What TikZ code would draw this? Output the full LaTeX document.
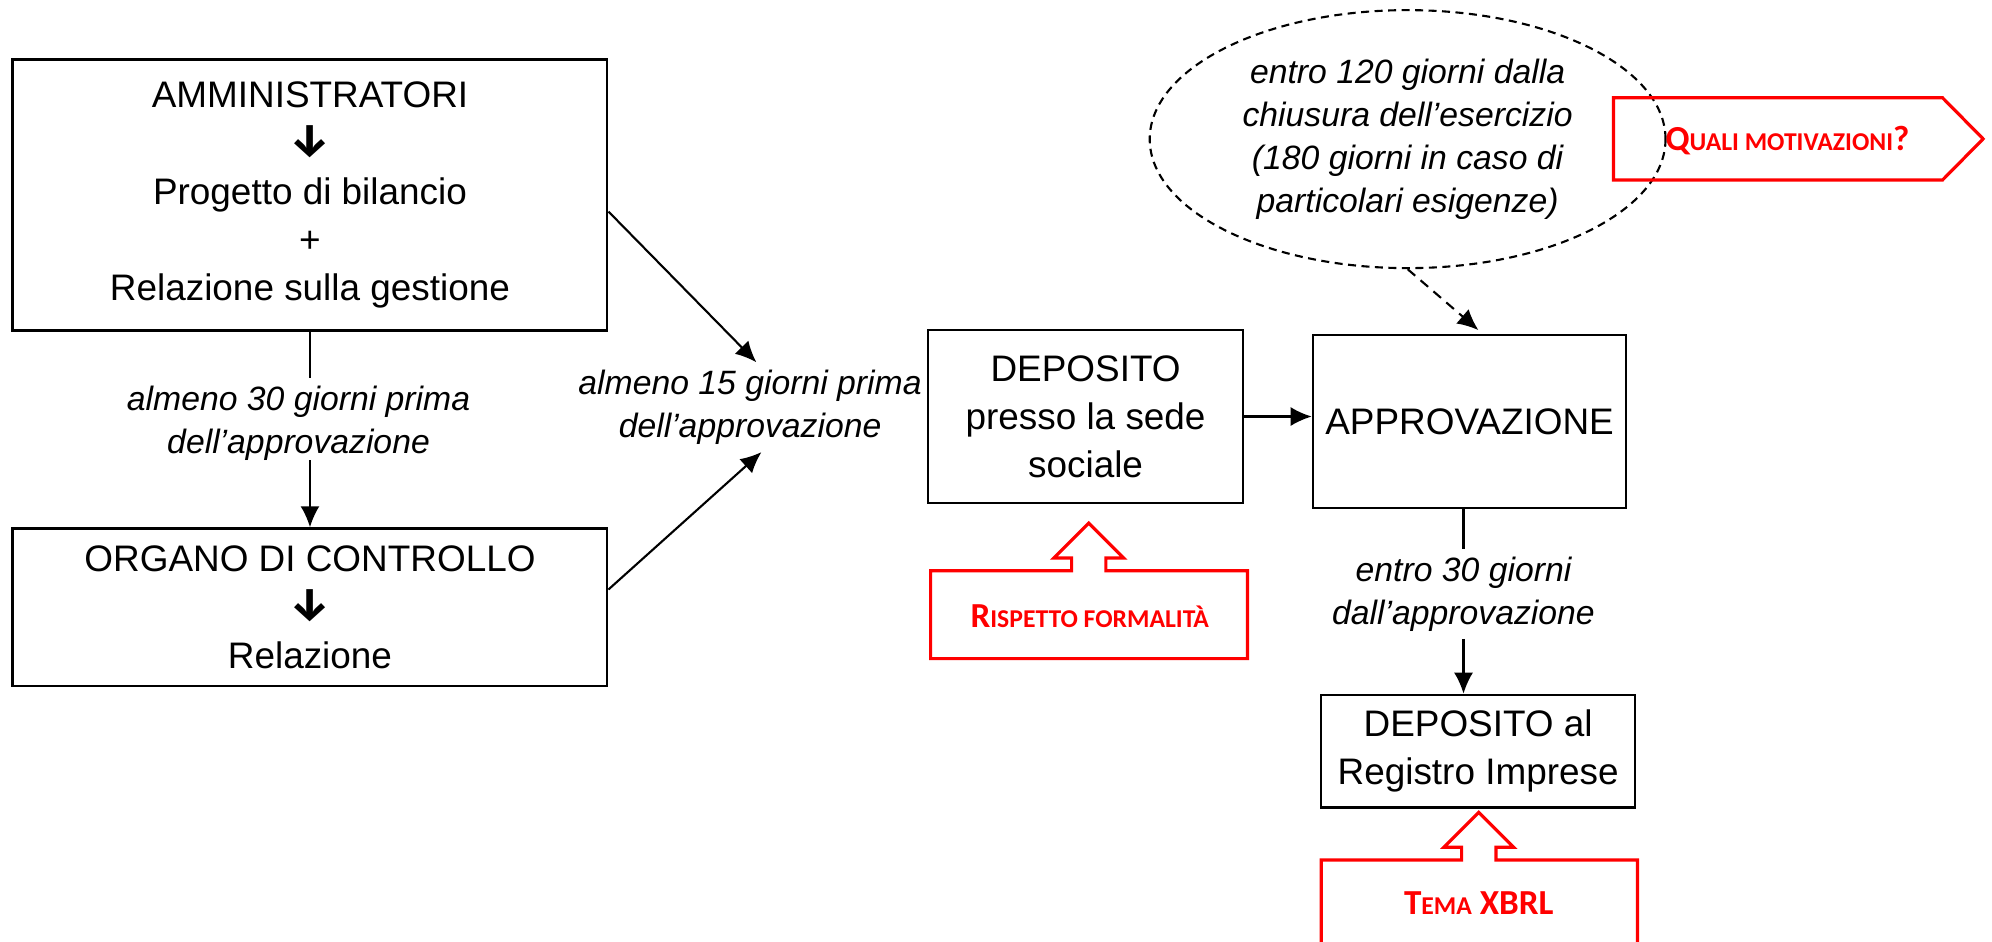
\documentclass[tikz,border=0pt]{standalone}
\usepackage{fontspec}
\setmainfont{Liberation Sans}
\newfontfamily\arrowfont{Fira Sans}
\newfontfamily\calibri{Carlito}
\usetikzlibrary{calc,arrows.meta,shapes.geometric}
\def\upcallout(#1:#2)(#3:#4:#5){\draw[redline] (#3,#2+37.5) -- (#1-13.5,#2+37.5) -- (#1-13.5,#2+27.5) -- (#1-27.5,#2+27.5) -- (#1,#2) -- (#1+27.5,#2+27.5) -- (#1+13.5,#2+27.5) -- (#1+13.5,#2+37.5) -- (#4,#2+37.5) -- (#4,#5) -- (#3,#5) -- cycle;}
\newcommand{\smc}[1]{{\fontsize{7.3}{8}\selectfont #1}}
\newcommand{\bigc}[1]{{\fontsize{10}{11}\selectfont #1}}
\newcommand{\dn}{{\arrowfont\bfseries\fontsize{13}{13.7}\selectfont ↓}}

\begin{document}
\begin{tikzpicture}[x=0.12704mm, y=-0.12704mm,
		box/.style={draw, line width=0.7pt, align=center, inner sep=0pt, font=\fontsize{10.5}{13.7}\selectfont},
		lbl/.style={align=center, inner sep=2pt, font=\fontsize{9.6}{12.2}\selectfont\itshape},
		arr/.style={line width=0.6pt, -{Latex[length=2.1mm,width=1.9mm]}},
		redline/.style={draw=red, line width=0.9pt},
		redtxt/.style={text=red, font=\calibri\bfseries}]
		%%%%% START %%%%%
		
		\useasboundingbox (0,0) rectangle (1568,741);
		\clip (0,0) rectangle (1568,741);
		
		\node[box, minimum width=59.45mm, minimum height=27.06mm] (amm) at (244,153.5) {AMMINISTRATORI\\\dn\\Progetto di bilancio\\+\\Relazione sulla gestione};
		\node[box, minimum width=59.45mm, minimum height=15.75mm] (org) at (244,478) {ORGANO DI CONTROLLO\\\dn\\Relazione};
		
		\node[lbl] (g30) at (235,333) {almeno 30 giorni prima\\dell'approvazione};
		\draw[line width=0.6pt] (amm.south) -- (amm.south |- g30.north);
		\draw[arr] ($(amm.south |- g30.south)+(0,-6)$) -- (org.north);
		
		\node[lbl] (g15) at (590.4,320.5) {almeno 15 giorni prima\\dell'approvazione};
		\draw[arr] ($(amm.east)+(0,13)$) -- ($(g15.north)+(5,0)$);
		\draw[arr] ($(org.east)+(0,-14)$) -- ($(g15.south)+(9,0)$);
		
		\node[box, minimum width=31.5mm, minimum height=17.32mm] (dep) at (854.5,327.85) {DEPOSITO\\presso la sede\\sociale};
		\node[box, minimum width=31.32mm, minimum height=17.3mm] (appr) at (1156.75,331.9) {APPROVAZIONE};
		\draw[arr] (dep.east) -- (dep.east -| appr.west);
		
		\node[lbl, draw, ellipse, inner sep=0pt, line width=0.6pt, dash pattern=on 0.8mm off 0.55mm, minimum width=51.58mm, minimum height=25.8mm] (esi) at (1108,109.5) {entro 120 giorni dalla\\chiusura dell'esercizio\\(180 giorni in caso di\\particolari esigenze)};
		\draw[arr, dash pattern=on 1mm off 0.7mm] (esi.south) -- ($(appr.north)+(7,-3)$);
		
		\node[lbl] (e30) at (1152,467.6) {entro 30 giorni\\dall'approvazione};
		\node[box, minimum width=31.38mm, minimum height=11.26mm] (reg) at (1163.5,591.3) {DEPOSITO al\\Registro Imprese};
		\draw[line width=0.6pt] (appr.south -| e30.north) -- (e30.north);
		\draw[arr] (e30.south) -- (e30.south |- reg.north);
		
		% red notes
		\draw[redline] (1270,76.9) -- (1529,76.9) -- (1561,109.3) -- (1529,141.7) -- (1270,141.7) -- cycle;
		\node[redtxt] (quali) at (1407,111) {\bigc{Q}\smc{UALI MOTIVAZIONI}\bigc{?}};
		
		\upcallout(857:411.7)(732.5:982:518.4)
		\node[redtxt] (risp) at (857.8,485) {\bigc{R}\smc{ISPETTO FORMALITÀ}};
		
		\upcallout(1164:639.4)(1040:1289:760)
		\node[redtxt] (tema) at (1164,711) {\bigc{T}\smc{EMA} \bigc{XBRL}};
		
		%%%%% END %%%%%
	\end{tikzpicture}
\end{document}
